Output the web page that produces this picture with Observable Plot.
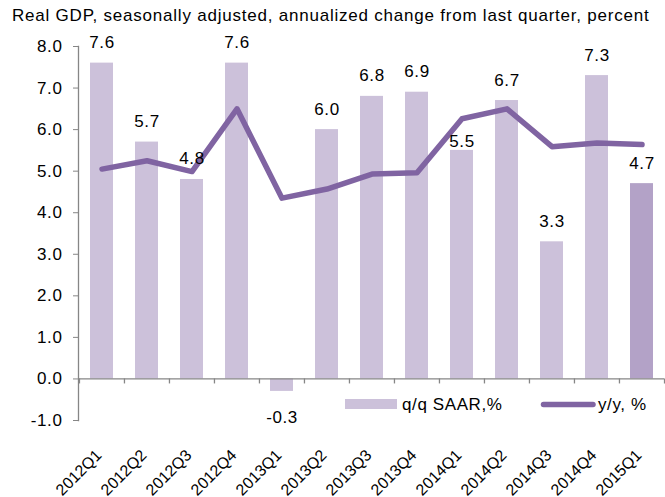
<!DOCTYPE html>
<html><head><meta charset="utf-8">
<script src="https://cdn.jsdelivr.net/npm/d3@7"></script>
<script src="https://cdn.jsdelivr.net/npm/@observablehq/plot@0.6"></script>
<style>
html,body{margin:0;padding:0;background:#fff;}
body{width:665px;height:497px;overflow:hidden;font-family:"Liberation Sans",Arial,sans-serif;}
#title{height:28px;box-sizing:border-box;padding:6px 0 0 12px;font-size:17px;line-height:20px;letter-spacing:0.78px;color:#000;white-space:nowrap;}
#chart svg{display:block;}
#chart svg text{letter-spacing:0.6px;}
#chart svg text.xlab{letter-spacing:0;}
</style></head><body>
<div id="title">Real GDP, seasonally adjusted, annualized change from last quarter, percent</div>
<div id="chart"></div>
<script>
// ---- data ----
const quarters = ["2012Q1","2012Q2","2012Q3","2012Q4","2013Q1","2013Q2","2013Q3","2013Q4","2014Q1","2014Q2","2014Q3","2014Q4","2015Q1"];
const qoq = [7.6, 5.7, 4.8, 7.6, -0.3, 6.0, 6.8, 6.9, 5.5, 6.7, 3.3, 7.3, 4.7];
const yoy = [5.05, 5.25, 4.99, 6.50, 4.35, 4.57, 4.93, 4.96, 6.26, 6.50, 5.59, 5.68, 5.64];
const yTicks = [-1, 0, 1, 2, 3, 4, 5, 6, 7, 8];
const seriesNames = ["q/q SAAR,%", "y/y, %"];

// ---- style / layout ----
const barColor = "#CCC1DA", lastBarColor = "#B3A2C7", lineColor = "#8064A2", axisColor = "#868686";
const W = 665, H = 469, mL = 78, mR = 1, mT = 18, mB = 77;
const padInner = 0.5, padOuter = 0.25;
const step = (W - mL - mR) / (quarters.length - padInner + 2 * padOuter);
const special = {"2013Q1": 32, "2014Q1": -3}; // label offsets (px)

const rows = quarters.map((q, i) => ({q, qoq: qoq[i], yoy: yoy[i], last: i === quarters.length - 1}));

const plot = Plot.plot({
  width: W, height: H, marginLeft: mL, marginRight: mR, marginTop: mT, marginBottom: mB,
  style: {fontFamily: '"Liberation Sans", Arial, sans-serif', fontSize: "17px", background: "#fff", color: "#000", overflow: "visible"},
  x: {domain: quarters, paddingInner: padInner, paddingOuter: padOuter, axis: null},
  y: {domain: [-1, 8], axis: null},
  marks: [
    Plot.barY(rows, {x: "q", y: "qoq", fill: d => d.last ? lastBarColor : barColor}),
    Plot.ruleY([0], {stroke: axisColor, strokeWidth: 1.3}),
    Plot.frame({anchor: "left", stroke: axisColor, strokeWidth: 1.3}),
    Plot.axisY({ticks: yTicks, tickFormat: d => d.toFixed(1), tickSize: 5, tickPadding: 11, stroke: axisColor, fill: "#000", fontSize: 17}),
    Plot.ruleX(quarters, {x: d => d, y1: d => 0, y2: d => 0, dx: -step / 2, insetBottom: -5, stroke: axisColor, strokeWidth: 1.3}),
    Plot.ruleX([quarters[quarters.length - 1]], {x: d => d, y1: d => 0, y2: d => 0, dx: step / 2, insetBottom: -5, stroke: axisColor, strokeWidth: 1.3}),
    Plot.text(quarters, {x: d => d, frameAnchor: "bottom", dx: -3, dy: 32, rotate: -45, textAnchor: "end", lineAnchor: "middle", fill: "#000", fontSize: 16, className: "xlab"}),
    Plot.line(rows, {x: "q", y: "yoy", stroke: lineColor, strokeWidth: 5.5, strokeLinejoin: "round", strokeLinecap: "round"}),
    Plot.text(rows, {filter: d => !(d.q in special), x: "q", y: "qoq", text: d => d.qoq.toFixed(1), lineAnchor: "bottom", dy: -15, fill: "#000", fontSize: 17}),
    ...Object.keys(special).map(k => Plot.text(rows, {filter: d => d.q === k, x: "q", y: "qoq", text: d => d.qoq.toFixed(1), lineAnchor: "bottom", dy: special[k], fill: "#000", fontSize: 17}))
  ]
});
document.getElementById("chart").appendChild(plot);
d3.select(plot).selectAll("g.xlab text").attr("class", "xlab");

// ---- legend (inside plot area) ----
const svg = d3.select(plot);
const lg = svg.append("g").attr("font-family", '"Liberation Sans", Arial, sans-serif').attr("font-size", 17).attr("fill", "#000").attr("text-anchor", "start");
lg.append("rect").attr("x", 345).attr("y", 371).attr("width", 52).attr("height", 10).attr("fill", barColor);
lg.append("text").attr("x", 402).attr("y", 382).text(seriesNames[0]);
lg.append("line").attr("x1", 543.5).attr("x2", 593).attr("y1", 376.5).attr("y2", 376.5)
  .attr("stroke", lineColor).attr("stroke-width", 5.5).attr("stroke-linecap", "round");
lg.append("text").attr("x", 598).attr("y", 382).text(seriesNames[1]);
</script>
</body></html>
